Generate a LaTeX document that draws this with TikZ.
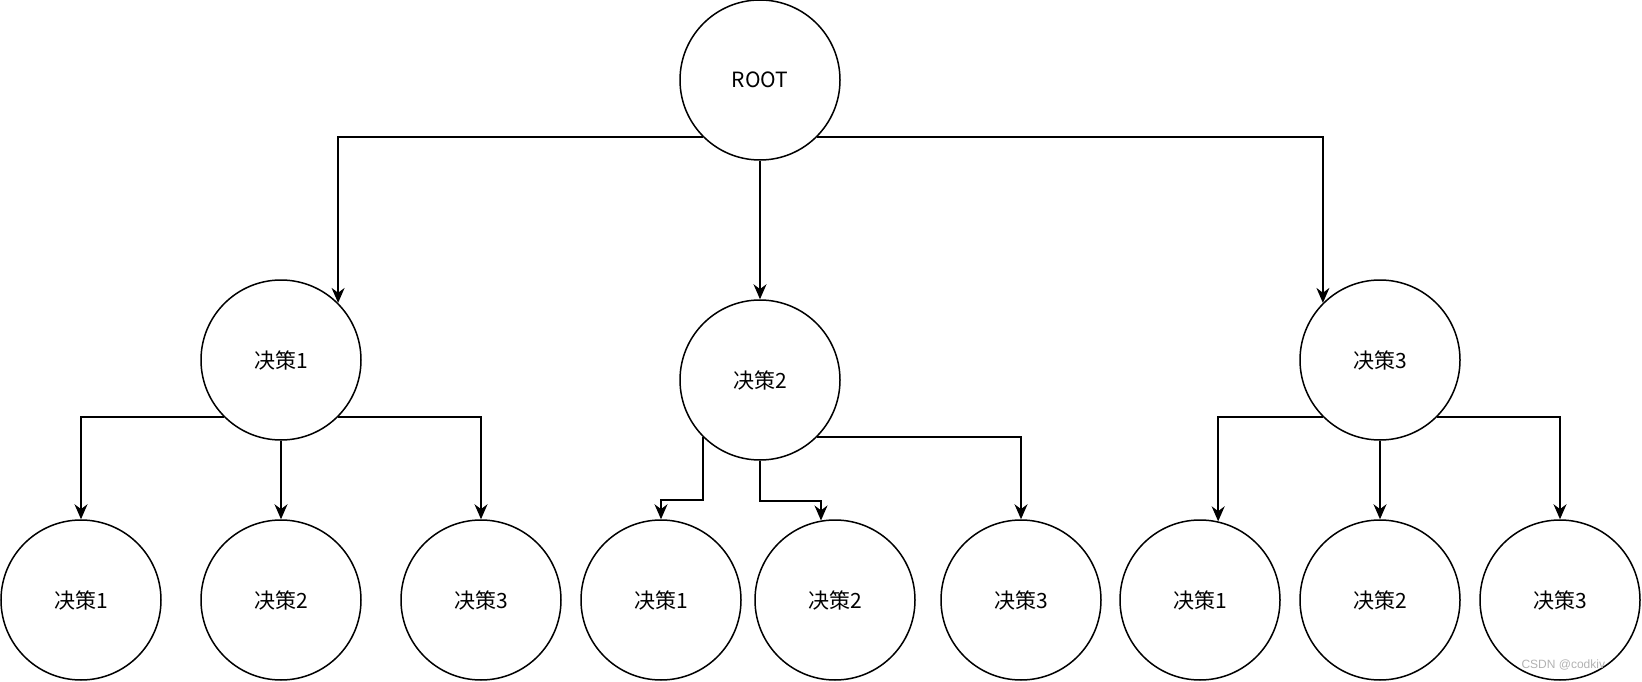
\documentclass[tikz,border=0pt]{standalone}
\usepackage{fontspec}
\setmainfont{Liberation Sans}
\newfontfamily\cjk{Noto Sans CJK SC}
\usetikzlibrary{arrows.meta}
\begin{document}
\begin{tikzpicture}[x=1pt,y=-1pt,
  c/.style={circle,draw,line width=1.5pt,minimum size=160pt,inner sep=0pt,font=\cjk\fontsize{21}{25}\selectfont},
  e/.style={line width=1.5pt,-{Stealth[length=15pt,width=13pt]}}]
\useasboundingbox (0,0) rectangle (1642,682);
\node[c] (r) at (760,80) {ROOT};
\node[c] (a) at (281,360) {决策1};
\node[c] (b) at (760,380) {决策2};
\node[c] (d) at (1380,360) {决策3};
\node[c] (l1) at (81,600) {决策1};
\node[c] (l2) at (281,600) {决策2};
\node[c] (l3) at (481,600) {决策3};
\node[c] (l4) at (661,600) {决策1};
\node[c] (l5) at (835,600) {决策2};
\node[c] (l6) at (1021,600) {决策3};
\node[c] (l7) at (1200,600) {决策1};
\node[c] (l8) at (1380,600) {决策2};
\node[c] (l9) at (1560,600) {决策3};
\draw[e] (r.225) -| (a.45);
\draw[e] (r.south) -- (b.north);
\draw[e] (r.-45) -| (d.135);
\draw[e] (a.225) -| (l1.north);
\draw[e] (a.south) -- (l2.north);
\draw[e] (a.-45) -| (l3.north);
\draw[e] (b.225) -- ++(0,63) -| (l4.north);
\draw[e] (b.south) -- ++(0,40) -| (l5.100);
\draw[e] (b.-45) -| (l6.north);
\draw[e] (d.225) -| (l7.77);
\draw[e] (d.south) -- (l8.north);
\draw[e] (d.-45) -| (l9.north);
\node[text=gray!60,font=\fontsize{12}{14}\selectfont,anchor=west] (w) at (1518,665) {CSDN @codkiv};
\end{tikzpicture}
\end{document}
